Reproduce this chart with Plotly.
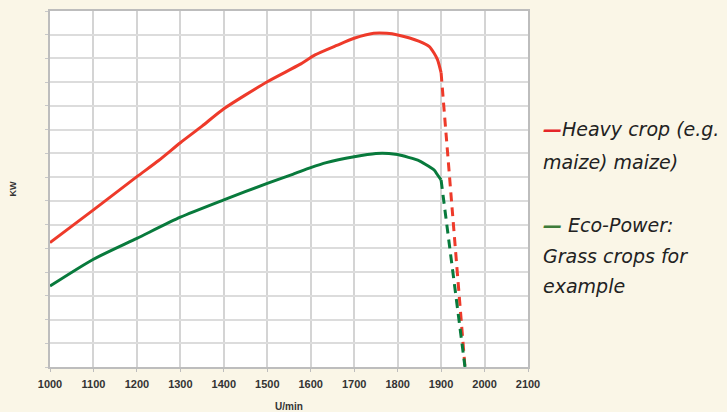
import plotly.graph_objects as go

# ---- data ----
rpm_heavy = [1000, 1100, 1200, 1250, 1300, 1350, 1400, 1500, 1575, 1610, 1660, 1700,
             1745, 1775, 1800, 1850, 1873, 1884, 1892, 1900]
heavy_kw = [5.24, 6.62, 8.02, 8.70, 9.45, 10.15, 10.88, 12.02, 12.75, 13.15, 13.55, 13.85,
            14.06, 14.06, 13.99, 13.72, 13.50, 13.22, 12.94, 12.40]

rpm_eco = [1000, 1100, 1200, 1300, 1400, 1500, 1560, 1600, 1636, 1700,
           1750, 1780, 1800, 1850, 1873, 1884, 1892, 1900]
eco_kw = [3.41, 4.54, 5.42, 6.31, 7.04, 7.74, 8.13, 8.40, 8.61, 8.86,
          9.00, 9.00, 8.95, 8.69, 8.44, 8.30, 8.09, 7.88]

rpm_drop = [1900, 1955]
heavy_drop = [12.40, 0.0]
eco_drop = [7.88, 0.0]

x_ticks = [1000, 1100, 1200, 1300, 1400, 1500, 1600, 1700, 1800, 1900, 2000, 2100]

legend_heavy = ["Heavy crop (e.g.", "maize) maize)"]
legend_eco = ["Eco-Power:", "Grass crops for", "example"]

RED = "#EE3A2A"
GREEN = "#087A3C"
LEG_RED = "#E5262A"
LEG_GREEN = "#3E7C3A"

fig = go.Figure()
fig.add_trace(go.Scatter(x=rpm_heavy, y=heavy_kw, mode="lines",
                         line=dict(color=RED, width=3, shape="spline", smoothing=0.6),
                         showlegend=False, hoverinfo="skip"))
fig.add_trace(go.Scatter(x=rpm_drop, y=heavy_drop, mode="lines",
                         line=dict(color=RED, width=3, dash="9px,6px"), showlegend=False, hoverinfo="skip"))
fig.add_trace(go.Scatter(x=rpm_eco, y=eco_kw, mode="lines",
                         line=dict(color=GREEN, width=3, shape="spline", smoothing=0.6),
                         showlegend=False, hoverinfo="skip"))
fig.add_trace(go.Scatter(x=rpm_drop, y=eco_drop, mode="lines",
                         line=dict(color=GREEN, width=3, dash="9px,6px"), showlegend=False, hoverinfo="skip"))

# plot area in pixels: x 50..528, y 11..367
def py2paper(py):
    return (367 - py) / 356.0

LEG_X = (541 - 50) / 478.0
leg_font = dict(family="DejaVu Sans", size=19, color="#222222", style="italic")
ann = []
ann.append(dict(text=f"<span style='color:{LEG_RED}'><b>—</b></span>{legend_heavy[0]}",
                x=LEG_X, y=py2paper(129)))
ann.append(dict(text=legend_heavy[1], x=LEG_X, y=py2paper(162)))
ann.append(dict(text=f"<span style='color:{LEG_GREEN}'><b>—</b></span> {legend_eco[0]}",
                x=LEG_X, y=py2paper(225)))
ann.append(dict(text=legend_eco[1], x=LEG_X, y=py2paper(256)))
ann.append(dict(text=legend_eco[2], x=LEG_X, y=py2paper(286)))
for a in ann:
    a.update(xref="paper", yref="paper", xanchor="left", yanchor="middle",
             showarrow=False, font=leg_font, align="left")

fig.update_layout(
    width=727, height=412,
    margin=dict(l=50, r=199, t=11, b=45, pad=0, autoexpand=False),
    paper_bgcolor="#FAF6E7",
    plot_bgcolor="#FFFFFF",
    annotations=ann,
    showlegend=False,
    xaxis=dict(
        range=[1000, 2100], tickvals=x_ticks, ticktext=[str(v) for v in x_ticks],
        showgrid=True, gridcolor="#D4D4D4", gridwidth=1.5,
        showline=True, linecolor="#BDBDBD", linewidth=2, mirror=True,
        ticks="outside", ticklen=3, tickcolor="#BDBDBD",
        ticklabelstandoff=3, automargin=False,
        tickfont=dict(family="Liberation Sans", size=11, color="#333333", weight="bold"),
        title=dict(text="U/min", font=dict(family="Liberation Sans", size=10, color="#333333", weight="bold"),
                   standoff=14),
        zeroline=False, fixedrange=True,
    ),
    yaxis=dict(
        range=[0, 15], dtick=1, tick0=0,
        showticklabels=False, automargin=False,
        showgrid=True, gridcolor="#DCDCDC", gridwidth=2,
        showline=True, linecolor="#BDBDBD", linewidth=2, mirror=True,
        ticks="outside", ticklen=3, tickcolor="#C8C8C8",
        title=dict(text="KW", font=dict(family="Liberation Sans", size=9, color="#333333", weight="bold"),
                   standoff=27),
        zeroline=False, fixedrange=True,
    ),
)

fig.write_html("out.html", config={"displayModeBar": False},
               post_script="document.body.style.margin='0';document.body.style.overflow='hidden';")
